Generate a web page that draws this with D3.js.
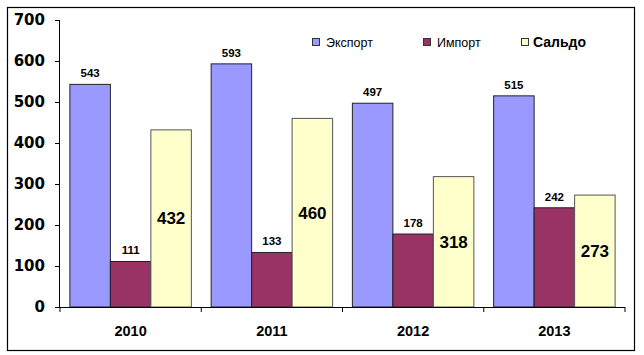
<!DOCTYPE html>
<html><head><meta charset="utf-8">
<script src="https://cdn.jsdelivr.net/npm/d3@7"></script>
<style>body{margin:0;background:#fff}svg{display:block}</style>
</head><body><svg id="c" width="644" height="355"></svg>
<script>
const years = ["2010","2011","2012","2013"];
const seriesNames = ["Экспорт","Импорт","Сальдо"];
const exportVals = [543,593,497,515];
const importVals = [111,133,178,242];
const saldoVals = [432,460,318,273];
const yTicks = [0,100,200,300,400,500,600,700];
const colors = ["#9999FF","#993366","#FFFFCC"];

const svg = d3.select("#c");
svg.append("rect").attr("x",7.5).attr("y",7.5).attr("width",627).attr("height",343)
  .attr("fill","#fff").attr("stroke","#000").attr("stroke-width",1.2);

const L=60,R=625,T=20,B=307;
const x = d3.scaleBand().domain(years).range([L,R]).paddingInner(0.14).paddingOuter(0.07);
const y = d3.scaleLinear().domain([0,700]).range([B,T]);
const xs = d3.scaleBand().domain(seriesNames).range([0,x.bandwidth()]);

const vals = [exportVals,importVals,saldoVals];
const data = [];
years.forEach((yr,i)=>seriesNames.forEach((s,j)=>data.push({yr,s,j,v:vals[j][i]})));

svg.selectAll("rect.bar").data(data).enter().append("rect").attr("class","bar")
  .attr("x",d=>x(d.yr)+xs(d.s)).attr("y",d=>y(d.v))
  .attr("width",xs.bandwidth()).attr("height",d=>B-y(d.v))
  .attr("fill",d=>colors[d.j]).attr("stroke",d=>d.j==2?"#555":"#222").attr("stroke-width",1);

// labels
svg.selectAll("text.lbl").data(data).enter().append("text").attr("class","lbl")
  .attr("x",d=>x(d.yr)+xs(d.s)+xs.bandwidth()/2)
  .attr("y",d=>d.j==2 ? (y(d.v)+B)/2+6 : y(d.v)-7)
  .attr("text-anchor","middle")
  .attr("font-family","Arial, 'Liberation Sans', sans-serif").attr("font-weight","bold")
  .attr("font-size",d=>d.j==2?17:11.5)
  .text(d=>d.v);

// y axis
const ya = svg.append("g").attr("transform",`translate(${L},0)`)
  .call(d3.axisLeft(y).tickValues(yTicks).tickSize(5).tickPadding(10));
ya.select(".domain").attr("stroke","#000").attr("d",`M-0.5,${T}V${B}`);
ya.selectAll(".tick line").attr("stroke","#000");
ya.selectAll("text").attr("font-family","'DejaVu Sans', Arial, sans-serif").attr("font-weight","bold")
  .attr("font-size",15).attr("fill","#000");

// x axis
const xa = svg.append("g").attr("transform",`translate(0,${B})`);
xa.append("line").attr("x1",L).attr("x2",R).attr("y1",0.5).attr("y2",0.5).attr("stroke","#000");
const step = (R-L)/years.length;
d3.range(years.length+1).forEach(i=>{
  xa.append("line").attr("x1",L+i*step).attr("x2",L+i*step).attr("y1",0).attr("y2",5).attr("stroke","#000");
});
xa.selectAll("text").data(years).enter().append("text")
  .attr("x",d=>x(d)+x.bandwidth()/2).attr("y",29).attr("text-anchor","middle")
  .attr("font-family","Arial, 'Liberation Sans', sans-serif").attr("font-weight","bold").attr("font-size",14.5)
  .text(d=>d);

// legend
const lg = [{n:"Экспорт",x:312,bold:false},{n:"Импорт",x:423,bold:false},{n:"Сальдо",x:521,bold:true}];
lg.forEach((d,i)=>{
  svg.append("rect").attr("x",d.x+0.5).attr("y",38.5).attr("width",7).attr("height",7)
    .attr("fill",colors[i]).attr("stroke","#333");
  svg.append("text").attr("x",d.x+(d.bold?12:14)).attr("y",47)
    .attr("font-family","Arial, 'Liberation Sans', sans-serif")
    .attr("font-weight",d.bold?"bold":"normal").attr("font-size",d.bold?14:12.5)
    .text(d.n);
});
</script></body></html>
